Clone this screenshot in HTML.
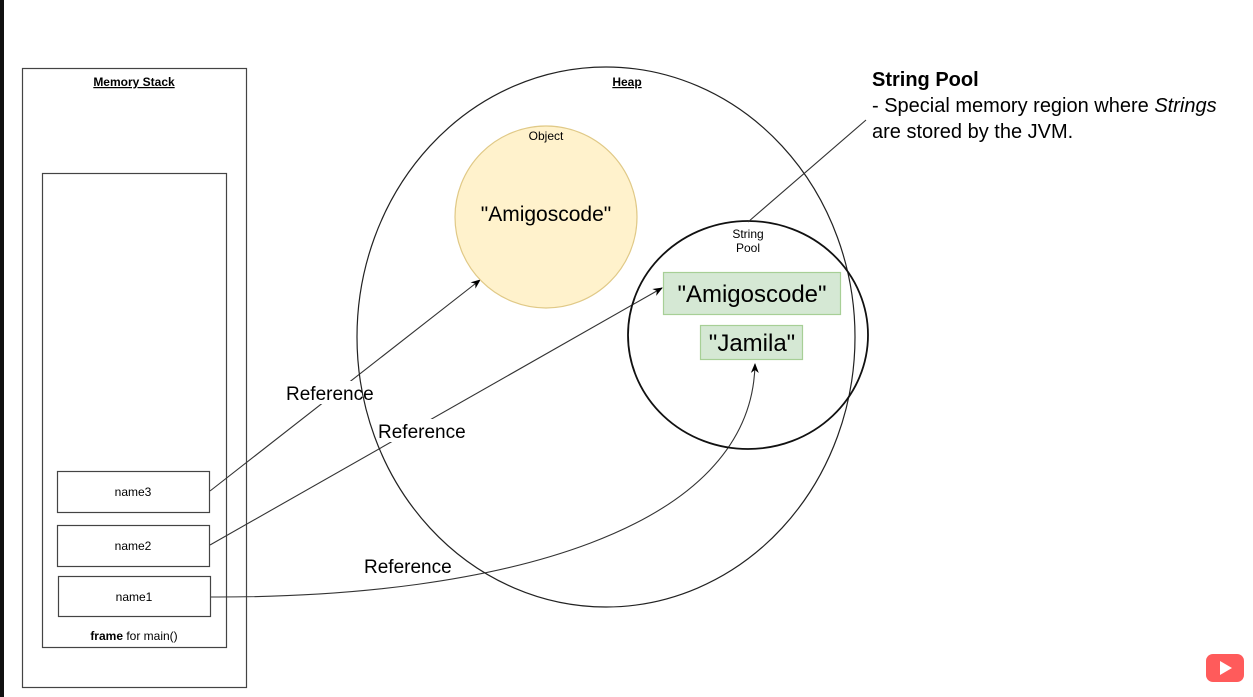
<!DOCTYPE html>
<html><head><meta charset="utf-8"><style>
html,body{margin:0;padding:0;background:#fff;width:1253px;height:697px;overflow:hidden}
svg{display:block}
text{font-family:"Liberation Sans",Arial,sans-serif;fill:#000}
</style></head><body>
<svg width="1253" height="697" viewBox="0 0 1253 697">
<defs><marker id="a" viewBox="0 0 10 10" refX="9" refY="5" markerWidth="9" markerHeight="9" orient="auto"><path d="M0,1 L10,5 L0,9 L3,5 z" fill="#000"/></marker></defs>
<rect x="0" y="0" width="4" height="697" fill="#111"/>
<rect x="22.5" y="68.5" width="224" height="619" fill="none" stroke="#444" stroke-width="1.2"/>
<text x="134" y="86" font-size="12" font-weight="bold" text-anchor="middle" text-decoration="underline">Memory Stack</text>
<rect x="42.5" y="173.5" width="184" height="474" fill="none" stroke="#444" stroke-width="1.2"/>
<rect x="57.5" y="471.5" width="152" height="41" fill="#fff" stroke="#444" stroke-width="1.2"/>
<text x="133" y="496" font-size="12" text-anchor="middle">name3</text>
<rect x="57.5" y="525.5" width="152" height="41" fill="#fff" stroke="#444" stroke-width="1.2"/>
<text x="133" y="550" font-size="12" text-anchor="middle">name2</text>
<rect x="58.5" y="576.5" width="152" height="40" fill="#fff" stroke="#444" stroke-width="1.2"/>
<text x="134" y="601" font-size="12" text-anchor="middle">name1</text>
<text x="134" y="640" font-size="12" text-anchor="middle"><tspan font-weight="bold">frame</tspan> for main()</text>

<line x1="210" y1="491" x2="480" y2="280" stroke="#333" stroke-width="1.1" marker-end="url(#a)"/>
<line x1="210" y1="545" x2="662" y2="288" stroke="#333" stroke-width="1.1" marker-end="url(#a)"/>
<path d="M211,597 C500,598 752,530 755,364" fill="none" stroke="#333" stroke-width="1.1" marker-end="url(#a)"/>

<rect x="284" y="381" width="97" height="23" fill="#fff"/>
<rect x="376" y="419" width="97" height="23" fill="#fff"/>
<rect x="362" y="554" width="97" height="23" fill="#fff"/>

<ellipse cx="606" cy="337" rx="249" ry="270" fill="none" stroke="#222" stroke-width="1.2"/>
<text x="627" y="86" font-size="12" font-weight="bold" text-anchor="middle" text-decoration="underline">Heap</text>
<circle cx="546" cy="217" r="91" fill="#fff2cc" stroke="#e0c987" stroke-width="1.2"/>
<text x="546" y="140" font-size="12" text-anchor="middle">Object</text>
<text x="546" y="221" font-size="21" text-anchor="middle">"Amigoscode"</text>

<ellipse cx="748" cy="335" rx="120" ry="114" fill="none" stroke="#111" stroke-width="1.8"/>
<text x="748" y="238" font-size="12" text-anchor="middle">String</text>
<text x="748" y="252" font-size="12" text-anchor="middle">Pool</text>
<rect x="663.5" y="272.5" width="177" height="42" fill="#d5e8d4" stroke="#a7cf96" stroke-width="1.2"/>
<text x="752" y="302" font-size="24" text-anchor="middle">"Amigoscode"</text>
<rect x="700.5" y="325.5" width="102" height="34" fill="#d5e8d4" stroke="#a7cf96" stroke-width="1.2"/>
<text x="752" y="351" font-size="24" text-anchor="middle">"Jamila"</text>

<line x1="748" y1="222" x2="866" y2="120" stroke="#333" stroke-width="1.1"/>
<text x="872" y="86" font-size="20" font-weight="bold">String Pool</text>
<text x="872" y="112" font-size="20">- Special memory region where <tspan font-style="italic">Strings</tspan></text>
<text x="872" y="138" font-size="20">are stored by the JVM.</text>

<text x="286" y="400" font-size="19">Reference</text>
<text x="378" y="438" font-size="19">Reference</text>
<text x="364" y="573" font-size="19">Reference</text>

<rect x="1206" y="654" width="38" height="28" rx="7" fill="#ff5b5b"/>
<path d="M1220,661 L1232,668 L1220,675 z" fill="#fff"/>
</svg>
</body></html>
